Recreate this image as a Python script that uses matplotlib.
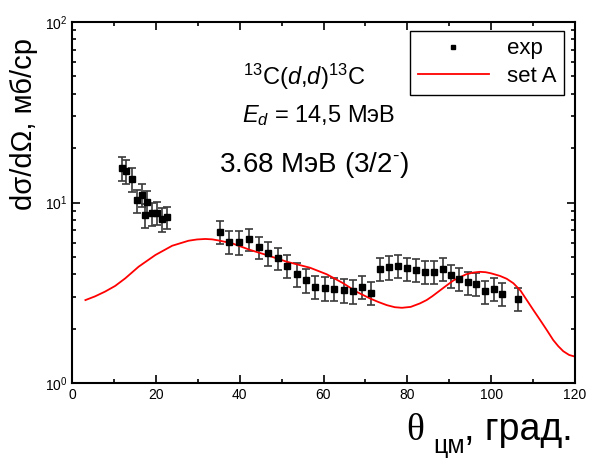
import numpy as np
import matplotlib
matplotlib.use('Agg')
import matplotlib.pyplot as plt
from matplotlib.lines import Line2D
from matplotlib.ticker import FixedLocator, FixedFormatter, MultipleLocator, LogLocator

plt.rcParams['font.family'] = ['Liberation Sans', 'DejaVu Sans']
plt.rcParams['mathtext.fontset'] = 'custom'
plt.rcParams['mathtext.rm'] = 'Liberation Sans'
plt.rcParams['mathtext.it'] = 'Liberation Sans:italic'
plt.rcParams['mathtext.bf'] = 'Liberation Sans:bold'

# experimental points: angle (deg), cross section (mb/sr), error
exp_theta = [11.9, 13.0, 14.2, 15.4, 16.6, 17.9, 17.4, 19.0, 20.2, 21.4, 22.6,
             35.3, 37.5, 39.9, 42.2, 44.5, 46.8, 49.1, 51.4, 53.6, 55.8,
             58.0, 60.3, 62.6, 64.8, 67.0, 69.2, 71.4, 73.5, 75.6, 77.8,
             79.9, 82.1, 84.2, 86.3, 88.4, 90.4, 92.4, 94.5, 96.5, 98.6,
             100.6, 102.6, 106.5]
exp_sigma = [15.5, 14.9, 13.5, 10.3, 11.0, 10.1, 8.5, 8.7, 8.8, 8.1, 8.3,
             6.89, 6.06, 6.02, 6.26, 5.65, 5.27, 4.91, 4.45, 4.00, 3.71,
             3.42, 3.35, 3.33, 3.28, 3.23, 3.42, 3.16, 4.28, 4.38, 4.47,
             4.32, 4.23, 4.14, 4.14, 4.28, 3.95, 3.78, 3.61, 3.54, 3.22,
             3.32, 3.12, 2.92]
exp_err = [2.3, 2.2, 2.0, 1.5, 1.6, 1.5, 1.3, 1.3, 1.3, 1.2, 1.2,
           1.0, 0.9, 0.9, 0.9, 0.8, 0.8, 0.7, 0.65, 0.6, 0.55,
           0.5, 0.5, 0.5, 0.5, 0.5, 0.5, 0.47, 0.62, 0.65, 0.65,
           0.63, 0.62, 0.6, 0.6, 0.62, 0.58, 0.55, 0.53, 0.52, 0.47,
           0.48, 0.46, 0.43]

# calculation "set A"
calc_theta = [3.2, 5.5, 7.9, 10.3, 12.7, 15.9, 19.9, 23.9, 27.8, 29.8, 31.8,
              33.4, 35.0, 38.2, 42.5, 46.4, 51.2, 56.8, 60.8, 64.7, 67.9,
              71.1, 73.1, 75.1, 77.0, 78.7, 80.8, 83.0, 84.6, 86.0, 89.0,
              91.0, 94.0, 95.7, 97.3, 98.7, 100.0, 102.1, 103.7, 105.3, 107.0,
              108.5, 110.1, 111.7, 113.3, 114.8, 116.0, 117.2, 118.6, 120.0]
calc_sigma = [2.88, 3.02, 3.21, 3.45, 3.80, 4.41, 5.12, 5.76, 6.14, 6.24, 6.28,
              6.25, 6.16, 5.94, 5.46, 5.12, 4.70, 4.35, 4.00, 3.57, 3.20,
              2.94, 2.81, 2.70, 2.63, 2.61, 2.64, 2.76, 2.88, 3.03, 3.42,
              3.70, 4.00, 4.09, 4.13, 4.11, 4.05, 3.92, 3.78, 3.57, 3.25,
              2.88, 2.53, 2.23, 1.96, 1.73, 1.60, 1.50, 1.43, 1.40]

x_ticks = [0, 20, 40, 60, 80, 100, 120]
y_ticks = [1, 10, 100]
y_labels = ['$10^{0}$', '$10^{1}$', '$10^{2}$']


def main():
    fig = plt.figure(figsize=(5.9, 4.58), dpi=100)
    ax = fig.add_axes([72/590, 75/458, 503/590, 361/458])

    ax.errorbar(exp_theta, exp_sigma, yerr=exp_err, fmt='s', color='black',
                ms=4.5, ecolor='#3a3a3a', elinewidth=1.2, capsize=3,
                capthick=1.2)
    ax.plot(calc_theta, calc_sigma, color='red', lw=1.3)

    ax.set_yscale('log')
    ax.set_xlim(0, 120)
    ax.set_ylim(1, 100)
    ax.xaxis.set_major_locator(FixedLocator(x_ticks))
    ax.xaxis.set_minor_locator(MultipleLocator(10))
    ax.yaxis.set_major_locator(FixedLocator(y_ticks))
    ax.yaxis.set_major_formatter(FixedFormatter(y_labels))
    ax.yaxis.set_minor_locator(LogLocator(base=10, subs=np.arange(2, 10)))
    ax.yaxis.set_minor_formatter(FixedFormatter([]))
    ax.tick_params(which='both', direction='in', top=True, right=True,
                   labelsize=10, width=1.2)
    ax.tick_params(which='major', length=6)
    ax.tick_params(which='minor', length=3)
    for s in ax.spines.values():
        s.set_linewidth(1.5)

    h_exp = Line2D([], [], ls='none', marker='s', ms=3.5, color='black')
    h_calc = Line2D([], [], color='red', lw=1.3)
    leg = ax.legend([h_exp, h_calc], ['exp', 'set A'], loc='upper right',
                    bbox_to_anchor=(0.978, 0.976), borderaxespad=0, fontsize=16,
                    fancybox=False, handlelength=3.2, handletextpad=0.8,
                    borderpad=0.35, labelspacing=0.3, framealpha=1)
    leg.get_frame().set_edgecolor('black')
    leg.get_frame().set_linewidth(1.0)

    # annotations
    fig.text(304/590, 1 - 85/458, r'$^{13}$C($\it{d}$,$\it{d}$)$^{13}$C',
             fontsize=17, ha='center', va='baseline')
    fig.text(319/590, 1 - 122/458, r'$E_d$ = 14,5 МэВ',
             fontsize=17, ha='center', va='baseline')
    fig.text(314/590, 1 - 172/458, r'3.68 МэВ (3/2$^{\text{-}}$)',
             fontsize=20, ha='center', va='baseline')

    # axis titles
    fig.text(24/590, 1 - 124/458, 'dσ/dΩ, мб/ср', fontsize=21,
             rotation=90, ha='center', va='center')
    fig.text(406/590, 1 - 440/458, 'θ', fontsize=27, family='Liberation Serif',
             ha='left', va='baseline')
    fig.text(433/590, 1 - 453/458, 'цм', fontsize=18, ha='left', va='baseline')
    fig.text(464/590, 1 - 440/458, ', град.', fontsize=27, ha='left',
             va='baseline')

    fig.savefig('out.png', dpi=100)


if __name__ == '__main__':
    main()
